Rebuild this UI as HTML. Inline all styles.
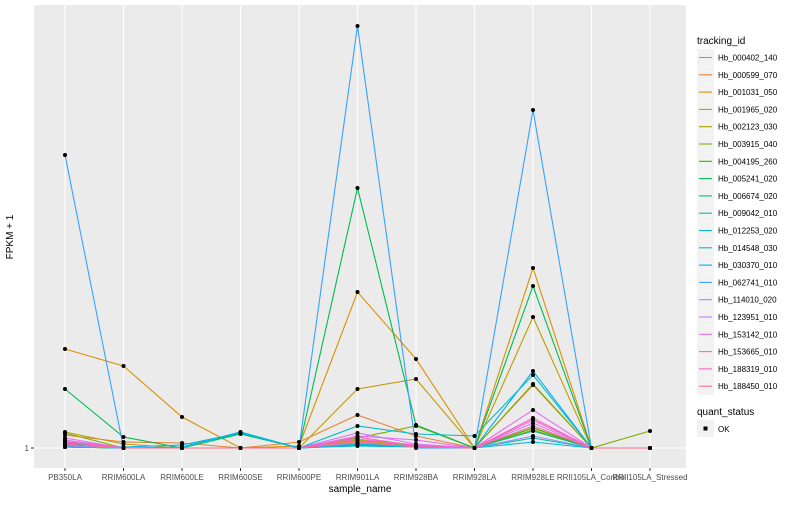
<!DOCTYPE html>
<html><head><meta charset="utf-8"><style>
body{margin:0;background:#fff;font-family:"Liberation Sans",sans-serif}
svg text{font-family:"Liberation Sans",sans-serif}
</style></head><body>
<svg id="chart" width="800" height="500">
<rect x="34" y="5" width="652" height="463" fill="#EBEBEB"/>
<g id="grid"></g><g id="lines"></g><g id="points"></g><g id="axes"></g><g id="legend"></g>
<text x="13" y="237" font-size="10" text-anchor="middle" transform="rotate(-90 13 237)" fill="#000">FPKM + 1</text>
<text x="360" y="492" font-size="10" text-anchor="middle" fill="#000">sample_name</text>
</svg>
<script>
const categories=["PB350LA","RRIM600LA","RRIM600LE","RRIM600SE","RRIM600PE","RRIM901LA","RRIM928BA","RRIM928LA","RRIM928LE","RRII105LA_Control","RRII105LA_Stressed"];
const seriesNames=["Hb_000402_140","Hb_000599_070","Hb_001031_050","Hb_001965_020","Hb_002123_030","Hb_003915_040","Hb_004195_260","Hb_005241_020","Hb_006674_020","Hb_009042_010","Hb_012253_020","Hb_014548_030","Hb_030370_010","Hb_062741_010","Hb_114010_020","Hb_123951_010","Hb_153142_010","Hb_153665_010","Hb_188319_010","Hb_188450_010"];
const colors=["#F8766D","#EA8331","#D89000","#C09B00","#A3A500","#7CAE00","#39B600","#00BB4E","#00BF7D","#00C1A3","#00BFC4","#00BAE0","#00B0F6","#35A2FF","#9590FF","#C77CFF","#E76BF3","#FA62DB","#FF62BC","#FF6C91"];
const s01=[3,1,1,1,1,15,5,1,41,1,1];
const s02=[27,13,11,1,13,67,25,1,127,1,1];
const s03=[199,165,63,1,5,313,179,1,361,1,1];
const s04=[33,9,1,1,1,119,139,1,263,1,1];
const s05=[3,1,1,1,1,17,5,1,37,1,1];
const s06=[31,1,1,1,1,21,45,1,129,1,35];
const s07=[3,1,1,1,1,9,3,1,41,1,1];
const s08=[119,23,1,29,1,521,47,1,325,1,1];
const s09=[11,1,1,1,1,7,3,1,35,1,1];
const s10=[3,1,1,31,1,9,5,1,21,1,1];
const s11=[5,1,3,33,1,45,29,25,147,1,1];
const s12=[3,1,1,1,1,5,3,1,13,1,1];
const s13=[7,3,7,31,1,7,5,1,155,1,1];
const s14=[587,1,1,1,1,845,1,1,677,1,1];
const s15=[5,1,1,1,1,11,5,1,25,1,1];
const s16=[17,1,1,1,1,31,9,1,51,1,1];
const s17=[21,1,1,1,1,25,17,1,77,1,1];
const s18=[15,1,1,1,1,19,7,1,61,1,1];
const s19=[13,1,1,1,1,23,5,1,57,1,1];
const s20=[9,1,1,1,1,13,3,1,45,1,1];
const seriesValues=[s01,s02,s03,s04,s05,s06,s07,s08,s09,s10,s11,s12,s13,s14,s15,s16,s17,s18,s19,s20];
const yTickValues=[1];
const yTickLabels=["1"];
const NS="http://www.w3.org/2000/svg";
function xScale(i){return 65+i*58.5;}
function yScale(v){return 448-(v-1)*0.5;}
function mk(tag,attrs,parent){const e=document.createElementNS(NS,tag);for(const k in attrs)e.setAttribute(k,attrs[k]);parent.appendChild(e);return e;}
const grid=document.getElementById('grid'),lines=document.getElementById('lines'),pts=document.getElementById('points'),axes=document.getElementById('axes'),leg=document.getElementById('legend');
categories.forEach((c,i)=>{
  const g=mk('line',{x1:xScale(i),x2:xScale(i),y1:5,y2:468,stroke:'#fff','stroke-width':1.1},grid);
  
  
  const t=mk('line',{x1:xScale(i),x2:xScale(i),y1:468,y2:471,stroke:'#333','stroke-width':1},axes);
  
  
  const l=mk('text',{x:xScale(i),y:480,'font-size':8,'text-anchor':'middle',fill:'#4D4D4D'},axes);
  l.textContent=c;
  
  
});
yTickValues.forEach((v,i)=>{
  const g=mk('line',{x1:34,x2:686,y1:yScale(v),y2:yScale(v),stroke:'#fff','stroke-width':1.1},grid);
  
  
  const t=mk('line',{x1:31,x2:34,y1:yScale(v),y2:yScale(v),stroke:'#333','stroke-width':1},axes);
  
  
  const l=mk('text',{x:29,y:yScale(v)+3,'font-size':8,'text-anchor':'end',fill:'#4D4D4D'},axes);
  l.textContent=yTickLabels[i];
  
  
});
seriesValues.forEach((vals,s)=>{
  const d=vals.map((v,i)=>(i?'L':'M')+xScale(i)+','+yScale(v)).join(' ');
  const p=mk('path',{d:d,fill:'none',stroke:colors[s],'stroke-width':1.1},lines);
  
  
});
seriesValues.forEach((vals,s)=>{
  vals.forEach((v,i)=>{
    const c=mk('circle',{cx:xScale(i),cy:yScale(v),r:2,fill:'#000'},pts);
    
    
  });
});
const lt=mk('text',{x:697,y:44,'font-size':10,fill:'#000'},leg);
lt.textContent='tracking_id';


seriesNames.forEach((n,s)=>{
  const y=49+s*17.3;
  const g=mk('g',{},leg);
  
  
  mk('rect',{x:697,y:y,width:17,height:17,fill:'#F2F2F2'},g);
  mk('line',{x1:699,x2:712,y1:y+8.5,y2:y+8.5,stroke:colors[s],'stroke-width':1.1},g);
  const t=mk('text',{x:718,y:y+11.5,'font-size':8,fill:'#000'},g);
  t.textContent=n;
});
const qt=mk('text',{x:697,y:415,'font-size':10,fill:'#000'},leg);
qt.textContent='quant_status';


const qg=mk('g',{},leg);


mk('rect',{x:697,y:420,width:17,height:17,fill:'#F2F2F2'},qg);
mk('rect',{x:703.5,y:426.5,width:4,height:4,fill:'#000'},qg);
const ok=mk('text',{x:718,y:432,'font-size':8,fill:'#000'},qg);
ok.textContent='OK';
</script>
</body></html>
